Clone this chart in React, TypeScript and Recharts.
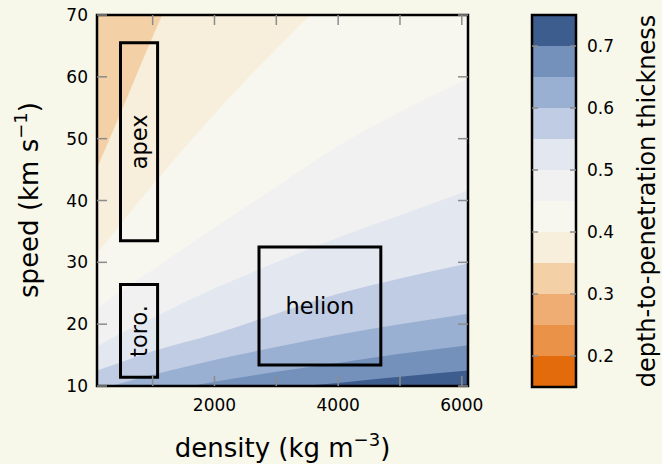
import React from 'react';
import { ComposedChart, Area, XAxis, YAxis, ReferenceArea } from 'recharts';

// density samples (kg m^-3) along the x axis
const densities = [100, 500, 1000, 2000, 3000, 4000, 5000, 6100];

// speed (km/s) where each contour level crosses the density samples
const c035 = [45.2, 54.6, 66.5, 88, 108, 125, 140, 155];
const c040 = [31.4, 36.4, 42.5, 54.0, 64.5, 74.4, 83, 92];
const c045 = [22.5, 25.4, 28.8, 35.6, 42.2, 48.8, 54.3, 59.7];
const c050 = [16.4, 18.6, 21.0, 25.8, 30.0, 34.0, 37.6, 41.6];
const c055 = [12.5, 13.9, 15.6, 18.4, 21.7, 24.9, 27.4, 29.8];
const c060 = [9.3, 10.5, 11.8, 14.2, 16.3, 18.3, 20.0, 21.7];
const c065 = [7.2, 8.0, 8.9, 10.7, 12.3, 13.7, 15.2, 16.6];
const c070 = [5.6, 6.2, 6.9, 8.3, 9.6, 10.5, 11.5, 12.5];

// contour levels and the colour of the band above each one
const levels = [0.15, 0.2, 0.25, 0.3, 0.35, 0.4, 0.45, 0.5, 0.55, 0.6, 0.65, 0.7, 0.75];
const bandColors = [
    '#e36b0b', '#eb9249', '#efad74', '#f3d0a6', '#f7eedb', '#f7f7ef',
    '#f1f1f1', '#e3e7f0', '#bfcce3', '#9ab0d3', '#7491bb', '#3e5d8f',
];

const xTicks = [1000, 2000, 3000, 4000, 5000, 6000];
const xTickLabels = [2000, 4000, 6000];
const yTicks = [10, 20, 30, 40, 50, 60, 70];
const cbTicks = [0.2, 0.3, 0.4, 0.5, 0.6, 0.7];

const boxes = [
    { name: 'apex', x: [480, 1080], y: [33.5, 65.5], vertical: true },
    { name: 'toro.', x: [480, 1080], y: [11.4, 26.4], vertical: true },
    { name: 'helion', x: [2720, 4690], y: [13.4, 32.5], vertical: false },
];

const contours = [
    { key: 'c035', band: 4 },
    { key: 'c040', band: 5 },
    { key: 'c045', band: 6 },
    { key: 'c050', band: 7 },
    { key: 'c055', band: 8 },
    { key: 'c060', band: 9 },
    { key: 'c065', band: 10 },
    { key: 'c070', band: 11 },
];

const data = densities.map((d, i) => ({
    density: d,
    c035: c035[i], c040: c040[i], c045: c045[i], c050: c050[i],
    c055: c055[i], c060: c060[i], c065: c065[i], c070: c070[i],
}));

const cbBands = levels.slice(0, -1).map((lo, i) => ({ lo, hi: levels[i + 1], color: bandColors[i] }));

const tickGrey = '#8c8c8c';
const bg = '#f7f7ea';

const BottomTick = ({ x, y, payload }: any) => (
    <g>
        <line x1={x} x2={x} y1={y} y2={y - 10} stroke={tickGrey} strokeWidth={1.5} />
        {xTickLabels.includes(payload.value) && (
            <text x={x} y={y + 25} textAnchor="middle" fontSize={17} fill="#000">{payload.value}</text>
        )}
    </g>
);

const TopTick = ({ x, y }: any) => (
    <line x1={x} x2={x} y1={y} y2={y + 10} stroke={tickGrey} strokeWidth={1.5} />
);

const LeftTick = ({ x, y, payload }: any) => (
    <g>
        <line x1={x} x2={x + 10} y1={y} y2={y} stroke={tickGrey} strokeWidth={1.5} />
        <text x={x - 9} y={y} dy="0.36em" textAnchor="end" fontSize={17} fill="#000">{payload.value}</text>
    </g>
);

const RightTick = ({ x, y }: any) => (
    <line x1={x - 10} x2={x} y1={y} y2={y} stroke={tickGrey} strokeWidth={1.5} />
);

const ColorbarTick = ({ x, y, payload }: any) => (
    <g>
        <line x1={x - 6} x2={x} y1={y} y2={y} stroke={tickGrey} strokeWidth={1.5} />
        <line x1={x - 44} x2={x - 38} y1={y} y2={y} stroke={tickGrey} strokeWidth={1.5} />
        <text x={x + 11} y={y} dy="0.36em" textAnchor="start" fontSize={17} fill="#000">
            {payload.value.toFixed(1)}
        </text>
    </g>
);

export default function App() {
    return (
        <div style={{ position: 'absolute', left: 0, top: 0, width: 662, height: 464, background: bg, fontFamily: '"DejaVu Sans", sans-serif' }}>
            <div style={{ position: 'absolute', left: 0, top: 0 }}>
                <ComposedChart width={500} height={464} data={data} margin={{ top: 14, left: 96, right: 31, bottom: 77 }}>
                    <ReferenceArea x1={100} x2={6100} y1={10} y2={70} fill={bandColors[3]} fillOpacity={1} stroke="none" />
                    {contours.map(c => (
                        <Area
                            key={c.key}
                            dataKey={c.key}
                            type="monotone"
                            baseValue="dataMin"
                            stroke="none"
                            fill={bandColors[c.band]}
                            fillOpacity={1}
                            dot={false}
                            activeDot={false}
                            isAnimationActive={false}
                        />
                    ))}
                    <XAxis dataKey="density" type="number" domain={[100, 6100]} allowDataOverflow ticks={xTicks}
                        interval={0} height={1} tickSize={0} tickMargin={0} axisLine={false} tickLine={false} tick={<BottomTick />} />
                    <XAxis xAxisId="t" orientation="top" dataKey="density" type="number" domain={[100, 6100]} allowDataOverflow ticks={xTicks}
                        interval={0} height={1} tickSize={0} tickMargin={0} axisLine={false} tickLine={false} tick={<TopTick />} />
                    <YAxis type="number" domain={[10, 70]} allowDataOverflow ticks={yTicks} interval={0} width={1}
                        tickSize={0} tickMargin={0} axisLine={false} tickLine={false} tick={<LeftTick />} />
                    <YAxis yAxisId="r" orientation="right" type="number" domain={[10, 70]} allowDataOverflow ticks={yTicks} interval={0} width={1}
                        tickSize={0} tickMargin={0} axisLine={false} tickLine={false} tick={<RightTick />} />
                    {boxes.map(b => (
                        <ReferenceArea
                            key={b.name}
                            x1={b.x[0]} x2={b.x[1]} y1={b.y[0]} y2={b.y[1]}
                            fill="none" stroke="#000" strokeWidth={3}
                            label={{ value: b.name, position: 'center', angle: b.vertical ? -90 : 0, fontSize: 22.5, fill: '#000' }}
                        />
                    ))}
                    <ReferenceArea x1={100} x2={6100} y1={10} y2={70} fill="none" stroke="#000" strokeWidth={2.5} />
                </ComposedChart>
            </div>
            <div style={{ position: 'absolute', left: 500, top: 0 }}>
                <ComposedChart width={162} height={464} data={cbBands} margin={{ top: 15, left: 32, right: 85, bottom: 77 }}>
                    {cbBands.map(b => (
                        <ReferenceArea key={b.lo} y1={b.lo} y2={b.hi} fill={b.color} fillOpacity={1} stroke="none" />
                    ))}
                    <YAxis orientation="right" type="number" domain={[0.15, 0.75]} allowDataOverflow ticks={cbTicks}
                        interval={0} width={1} tickSize={0} tickMargin={0} axisLine={false} tickLine={false} tick={<ColorbarTick />} />
                    <ReferenceArea y1={0.15} y2={0.75} fill="none" stroke="#000" strokeWidth={2.5} />
                </ComposedChart>
            </div>
            <svg width={662} height={464} style={{ position: 'absolute', left: 0, top: 0, pointerEvents: 'none' }}>
                <text x={282.5} y={457} textAnchor="middle" fontSize={26} fill="#000">
                    density (kg m<tspan dy={-11} fontSize={18}>−3</tspan><tspan dy={11}>)</tspan>
                </text>
                <text transform="translate(38,200) rotate(-90)" textAnchor="middle" fontSize={26} fill="#000">
                    speed (km s<tspan dy={-11} fontSize={18}>−1</tspan><tspan dy={11}>)</tspan>
                </text>
                <text transform="translate(655,201) rotate(-90)" textAnchor="middle" fontSize={24} fill="#000">
                    depth-to-penetration thickness
                </text>
            </svg>
        </div>
    );
}
